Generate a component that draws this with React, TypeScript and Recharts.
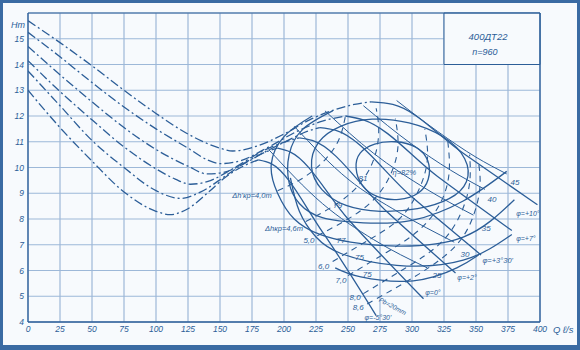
import {
  CartesianGrid,
  Line,
  LineChart,
  ReferenceArea,
  ReferenceDot,
  ReferenceLine,
  XAxis,
  YAxis,
} from "recharts";

type Pt = { q: number; h: number };
const pts = (a: number[][]): Pt[] => a.map(([q, h]) => ({ q, h }));

const qTicks = [0, 25, 50, 75, 100, 125, 150, 175, 200, 225, 250, 275, 300, 325, 350, 375, 400];
const hTicks = [4, 5, 6, 7, 8, 9, 10, 11, 12, 13, 14, 15, 16];

// H-Q curves per blade angle: unstable part (dash-dot) and working part (solid)
const phi10Left = pts([[0, 15.7], [25, 14.85], [50, 13.95], [75, 13.0], [100, 12.1], [125, 11.3], [150, 10.75], [160, 10.64], [180, 10.85], [200, 11.3], [220, 11.85], [240, 12.25], [255, 12.45], [268, 12.55]]);
const phi10Right = pts([[268, 12.55], [285, 12.45], [340, 10.55], [398, 8.55]]);
const phi7Left = pts([[0, 15.25], [25, 14.3], [50, 13.3], [75, 12.35], [100, 11.5], [125, 10.75], [140, 10.3], [150, 10.15], [165, 10.25], [190, 10.85], [210, 11.4], [230, 11.8], [248, 12.0]]);
const phi7Right = pts([[248, 12.0], [262, 11.85], [320, 9.65], [378, 7.55]]);
const phi330Left = pts([[0, 14.7], [25, 13.6], [50, 12.55], [75, 11.55], [100, 10.7], [125, 10.05], [140, 9.75], [152, 9.8], [165, 10.05], [185, 10.6], [205, 11.1], [218, 11.4], [228, 11.55]]);
const phi330Right = pts([[228, 11.55], [240, 11.45], [300, 8.85], [354, 6.6]]);
const phi2Left = pts([[0, 14.15], [25, 12.95], [50, 11.85], [75, 10.8], [100, 9.95], [115, 9.55], [127, 9.35], [140, 9.45], [160, 9.95], [180, 10.55], [198, 10.95], [212, 11.15]]);
const phi2Right = pts([[212, 11.15], [222, 11.05], [280, 8.3], [334, 5.9]]);
const phi0Left = pts([[0, 13.75], [25, 12.4], [50, 11.05], [75, 10.0], [100, 9.1], [119, 8.8], [135, 9.05], [155, 9.7], [170, 10.2], [183, 10.55], [195, 10.75]]);
const phi0Right = pts([[195, 10.75], [205, 10.6], [250, 8.0], [309, 4.9]]);
const phiM530Left = pts([[0, 13.0], [25, 11.55], [50, 10.25], [75, 9.05], [100, 8.3], [111, 8.17], [125, 8.4], [140, 9.0], [155, 9.65], [168, 10.05], [180, 10.3]]);
const phiM530Right = pts([[180, 10.3], [190, 10.15], [230, 7.5], [272, 4.25]]);

// constant power lines, kW
const n45 = pts([[288, 12.6], [320, 11.4], [350, 10.4], [374, 9.75]]);
const n40 = pts([[262, 12.4], [300, 10.9], [330, 9.9], [357, 9.15]]);
const n35 = pts([[232, 12.2], [270, 10.55], [310, 9.2], [348, 8.15]]);
const n30 = pts([[208, 11.6], [250, 9.55], [290, 8.25], [333, 7.1]]);
const n25 = pts([[188, 10.7], [230, 8.6], [270, 7.2], [312, 6.1]]);

// efficiency contours, %
const eta82 = pts([[255, 10.0], [258, 10.6], [270, 10.95], [287, 11.05], [304, 10.85], [314, 10.3], [314, 9.5], [306, 8.95], [290, 8.7], [273, 8.8], [260, 9.25]]);
const eta81 = pts([[219, 10.0], [225, 11.05], [243, 11.65], [268, 11.95], [298, 11.8], [326, 11.25], [344, 10.35], [345, 9.4], [331, 8.75], [305, 8.35], [275, 8.25], [247, 8.45], [228, 9.1]]);
const eta79 = pts([[238, 12.2], [215, 11.5], [204, 10.5], [204, 9.4], [212, 8.6], [230, 8.05], [262, 7.85], [300, 7.95], [340, 8.7], [374, 9.85]]);
const eta77 = pts([[222, 12.0], [200, 11.2], [190, 10.1], [195, 9.0], [208, 8.0], [228, 7.4], [252, 7.1], [288, 6.95], [340, 7.3], [380, 8.75]]);
const eta75a = pts([[205, 9.6], [212, 8.3], [225, 7.3], [245, 6.65], [288, 6.2], [340, 6.4], [378, 7.4]]);
const eta75b = pts([[240, 6.1], [260, 5.75], [301, 5.6], [335, 6.1], [352, 6.6]]);

// critical cavitation reserve lines, m
const dh40 = pts([[195, 9.1], [215, 9.6], [232, 10.3], [243, 11.1], [248, 12.0]]);
const dh46 = pts([[217, 7.9], [240, 8.55], [258, 9.3], [270, 10.3], [274, 11.4], [272, 12.3]]);
const dh50 = pts([[226, 7.35], [250, 8.0], [270, 8.75], [283, 9.7], [289, 10.8], [287, 11.9]]);
const dh60 = pts([[238, 6.35], [265, 7.15], [290, 8.0], [305, 9.1], [312, 10.3], [310, 11.5]]);
const dh70 = pts([[250, 5.8], [280, 6.7], [305, 7.55], [322, 8.6], [329, 9.8], [328, 11.0]]);
const dh80 = pts([[262, 5.1], [295, 6.1], [322, 7.05], [338, 8.2], [345, 9.4], [345, 10.5]]);
const dh86 = pts([[265, 4.7], [305, 5.85], [333, 6.9], [347, 8.0], [353, 9.2], [352, 10.2]]);

const INK = "#2c5e98";
const GRID = "#9db8d8";
const FONT = "'Liberation Sans', Arial, sans-serif";
const DASHDOT = "9 3 2 3";
const DASH = "6 5";

const curve = (key: string, data: Pt[], opts: { dash?: string; w?: number; type?: any } = {}) => (
  <Line
    key={key}
    data={data}
    dataKey="h"
    type={opts.type ?? "monotone"}
    stroke={INK}
    strokeWidth={opts.w ?? 1.3}
    strokeDasharray={opts.dash}
    dot={false}
    activeDot={false}
    isAnimationActive={false}
    legendType="none"
  />
);

const note = (key: string, q: number, h: number, text: string, size = 8, rotate = 0) => (
  <ReferenceDot
    key={key}
    x={q}
    y={h}
    r={0}
    ifOverflow="visible"
    shape={(p: any) => (
      <text
        x={p.cx}
        y={p.cy}
        fill={INK}
        fontSize={size}
        fontStyle="italic"
        fontFamily={FONT}
        textAnchor="middle"
        dominantBaseline="central"
        transform={rotate ? `rotate(${rotate} ${p.cx} ${p.cy})` : undefined}
      >
        {text}
      </text>
    )}
  />
);

const tickStyle = { fill: INK, fontSize: 8.5, fontStyle: "italic", fontFamily: FONT };

export default function App() {
  return (
    <div style={{ position: "absolute", left: 0, top: 0, width: 580, height: 350, background: "#f7fafd" }}>
      <LineChart width={580} height={350} margin={{ top: 13, right: 40, bottom: 0, left: 0 }}>
        <CartesianGrid stroke={GRID} strokeWidth={1.2} />
        <XAxis
          dataKey="q"
          type="number"
          domain={[0, 400]}
          ticks={qTicks}
          allowDataOverflow
          height={28}
          tickSize={0}
          tickMargin={4}
          tick={tickStyle}
          axisLine={{ stroke: INK, strokeWidth: 1.3 }}
        />
        <YAxis
          type="number"
          domain={[4, 16]}
          ticks={hTicks}
          allowDataOverflow
          width={28}
          tickSize={0}
          tickMargin={4}
          tick={tickStyle}
          tickFormatter={(v: number) => (v === 16 ? "" : String(v))}
          axisLine={{ stroke: INK, strokeWidth: 1.3 }}
        />
        <ReferenceLine x={400} stroke={INK} strokeWidth={1.3} />
        <ReferenceLine y={16} stroke={INK} strokeWidth={1} />
        <ReferenceArea x1={325} x2={400} y1={14} y2={16} fill="#f7fafd" fillOpacity={1} stroke={INK} strokeWidth={1} />

        {curve("p10l", phi10Left, { dash: DASHDOT })}
        {curve("p10r", phi10Right)}
        {curve("p7l", phi7Left, { dash: DASHDOT })}
        {curve("p7r", phi7Right)}
        {curve("p330l", phi330Left, { dash: DASHDOT })}
        {curve("p330r", phi330Right)}
        {curve("p2l", phi2Left, { dash: DASHDOT })}
        {curve("p2r", phi2Right)}
        {curve("p0l", phi0Left, { dash: DASHDOT })}
        {curve("p0r", phi0Right)}
        {curve("pm530l", phiM530Left, { dash: DASHDOT })}
        {curve("pm530r", phiM530Right)}

        {curve("n45", n45, { w: 1 })}
        {curve("n40", n40, { w: 1 })}
        {curve("n35", n35, { w: 1 })}
        {curve("n30", n30, { w: 1 })}
        {curve("n25", n25, { w: 1 })}

        {curve("e82", eta82, { type: "basisClosed" })}
        {curve("e81", eta81, { type: "basisClosed" })}
        {curve("e79", eta79, { type: "natural" })}
        {curve("e77", eta77, { type: "natural" })}
        {curve("e75a", eta75a, { type: "natural" })}
        {curve("e75b", eta75b, { type: "natural" })}

        {curve("d40", dh40, { type: "natural", dash: DASH, w: 1.1 })}
        {curve("d46", dh46, { type: "natural", dash: DASH, w: 1.1 })}
        {curve("d50", dh50, { type: "natural", dash: DASH, w: 1.1 })}
        {curve("d60", dh60, { type: "natural", dash: DASH, w: 1.1 })}
        {curve("d70", dh70, { type: "natural", dash: DASH, w: 1.1 })}
        {curve("d80", dh80, { type: "natural", dash: DASH, w: 1.1 })}
        {curve("d86", dh86, { type: "natural", dash: DASH, w: 1.1 })}

        {note("t1", 359.4, 15.1, "400ДТ22", 9.5)}
        {note("t2", 357, 14.49, "n=960", 9)}

        {note("e82t", 294, 9.79, "η=82%", 7.5)}
        {note("e81t", 261.7, 9.59, "81")}
        {note("e79t", 242, 8.54, "79")}
        {note("e77t", 244.5, 7.18, "77")}
        {note("e75at", 259, 6.49, "75")}
        {note("e75bt", 265, 5.83, "75")}

        {note("n45t", 380.5, 9.4, "45")}
        {note("n40t", 362.5, 8.74, "40")}
        {note("n35t", 358, 7.65, "35")}
        {note("n30t", 341.4, 6.64, "30")}
        {note("n25t", 319.5, 5.79, "25")}

        {note("f10", 390.6, 8.23, "φ=+10°", 7)}
        {note("f7", 389, 7.26, "φ=+7°", 7)}
        {note("f330", 367, 6.37, "φ=+3°30'", 7.5)}
        {note("f2", 343, 5.71, "φ=+2°", 7)}
        {note("f0", 316.4, 5.13, "φ=0°", 7)}
        {note("fm530", 273.4, 4.19, "φ=-5°30'", 7)}
        {note("pb", 285, 4.62, "Pb=20mm", 6.5, 28)}

        {note("d40t", 175, 8.93, "Δh'кр=4,0m", 7.5)}
        {note("d46t", 200, 7.65, "Δhкр=4,6m", 7.5)}
        {note("d50t", 219.5, 7.18, "5,0")}
        {note("d60t", 231, 6.14, "6,0")}
        {note("d70t", 244.5, 5.6, "7,0")}
        {note("d80t", 255.5, 4.97, "8,0")}
        {note("d86t", 258, 4.58, "8,6")}
      </LineChart>
      <span style={{ position: "absolute", left: 11, top: 20, color: INK, fontSize: 9, fontStyle: "italic", fontFamily: FONT }}>
        Hm
      </span>
      <span style={{ position: "absolute", left: 553, top: 324, color: INK, fontSize: 9.5, fontStyle: "italic", fontFamily: FONT }}>
        Q ℓ/s
      </span>
      <div
        style={{
          position: "absolute",
          inset: 0,
          border: "3px solid #3a6ba3",
          borderBottomWidth: 5,
          pointerEvents: "none",
        }}
      />
    </div>
  );
}
